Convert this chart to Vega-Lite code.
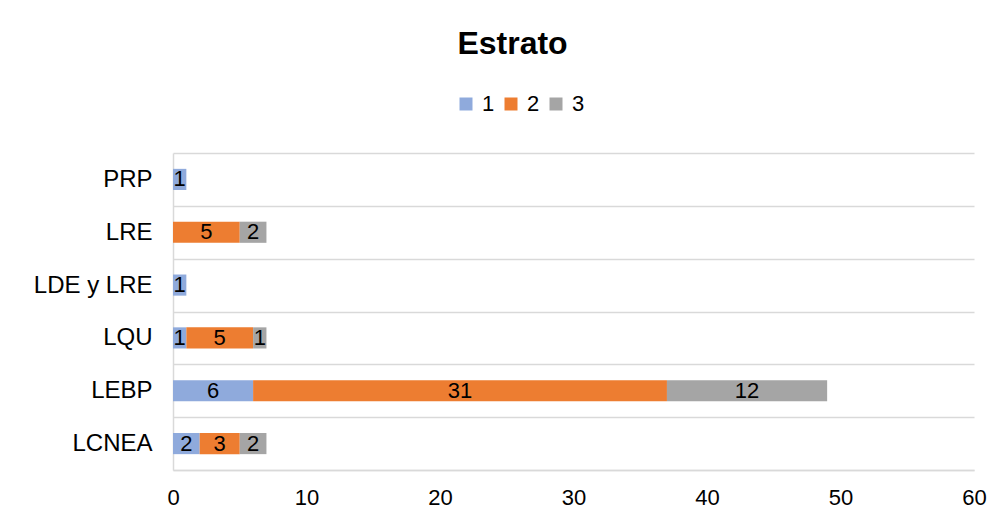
{
  "$schema": "https://vega.github.io/schema/vega-lite/v6.json",
  "width": 801,
  "height": 317,
  "autosize": {"type": "none"},
  "padding": {"left": 173, "top": 153, "right": 30, "bottom": 54},
  "background": "white",
  "config": {"view": {"stroke": null}, "font": "Liberation Sans"},
  "title": {"text": "Estrato", "fontSize": 32, "fontWeight": "bold", "font": "Liberation Sans", "color": "#000000", "anchor": "middle", "dx": -61, "offset": 32},
  "data": {
    "values": [
      {"prog": "PRP", "estrato": "1", "n": 1},
      {"prog": "LRE", "estrato": "2", "n": 5},
      {"prog": "LRE", "estrato": "3", "n": 2},
      {"prog": "LDE y LRE", "estrato": "1", "n": 1},
      {"prog": "LQU", "estrato": "1", "n": 1},
      {"prog": "LQU", "estrato": "2", "n": 5},
      {"prog": "LQU", "estrato": "3", "n": 1},
      {"prog": "LEBP", "estrato": "1", "n": 6},
      {"prog": "LEBP", "estrato": "2", "n": 31},
      {"prog": "LEBP", "estrato": "3", "n": 12},
      {"prog": "LCNEA", "estrato": "1", "n": 2},
      {"prog": "LCNEA", "estrato": "2", "n": 3},
      {"prog": "LCNEA", "estrato": "3", "n": 2}
    ]
  },
  "transform": [
    {"stack": "n", "groupby": ["prog"], "sort": [{"field": "estrato", "order": "ascending"}], "as": ["x0", "x1"]},
    {"calculate": "(datum.x0 + datum.x1) / 2", "as": "xmid"}
  ],
  "encoding": {
    "y": {
      "field": "prog",
      "type": "nominal",
      "sort": ["PRP", "LRE", "LDE y LRE", "LQU", "LEBP", "LCNEA"],
      "scale": {"paddingInner": 0, "paddingOuter": 0},
      "axis": {
        "title": null,
        "domain": true,
        "domainColor": "#d9d9d9",
        "domainWidth": 1.5,
        "ticks": false,
        "grid": true,
        "gridColor": "#d9d9d9",
        "gridWidth": 1.5,
        "tickBand": "extent",
        "labelFont": "Liberation Sans",
        "labelFontSize": 24,
        "labelColor": "#000000",
        "labelPadding": 21
      }
    }
  },
  "layer": [
    {
      "mark": {"type": "bar", "height": {"band": 0.4}},
      "encoding": {
        "x": {
          "field": "x0",
          "type": "quantitative",
          "scale": {"domain": [0, 60]},
          "axis": {
            "title": null,
            "values": [0, 10, 20, 30, 40, 50, 60],
            "domain": true,
            "domainColor": "#d9d9d9",
            "domainWidth": 1.5,
            "ticks": false,
            "grid": false,
            "labelFlush": false,
            "labelFont": "Liberation Sans",
            "labelFontSize": 22,
            "labelColor": "#000000",
            "labelPadding": 17
          }
        },
        "x2": {"field": "x1"},
        "color": {
          "field": "estrato",
          "type": "nominal",
          "scale": {"domain": ["1", "2", "3"], "range": ["#8FAADC", "#ED7D31", "#A5A5A5"]},
          "legend": {
            "title": null,
            "orient": "none",
            "direction": "horizontal",
            "legendX": 282,
            "legendY": -60,
            "symbolType": "square",
            "symbolSize": 169,
            "symbolStrokeWidth": 0,
            "labelFont": "Liberation Sans",
            "labelFontSize": 22,
            "labelColor": "#000000",
            "labelOffset": 5,
            "columnPadding": 5,
            "padding": 0
          }
        }
      }
    },
    {
      "mark": {"type": "text", "fontSize": 22, "color": "#000000", "font": "Liberation Sans"},
      "encoding": {
        "x": {"field": "xmid", "type": "quantitative"},
        "text": {"field": "n", "type": "quantitative"}
      }
    }
  ]
}
